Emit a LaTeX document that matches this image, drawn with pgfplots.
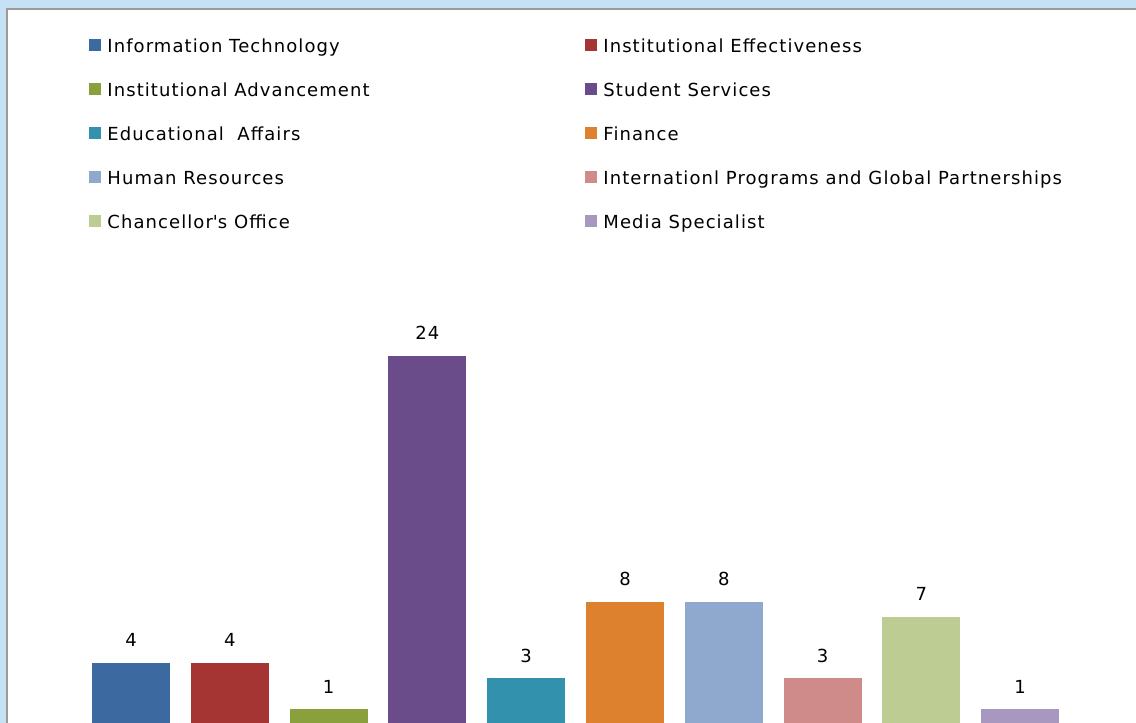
\documentclass[border=0pt]{standalone}
\usepackage{fontspec}
\setmainfont{DejaVu Sans}[LetterSpace=6]
\usepackage{pgfplots}
\pgfplotsset{compat=1.18}
\definecolor{bgblue}{HTML}{C6E0F4}
\definecolor{framegray}{HTML}{9A9A9A}
\definecolor{c1}{HTML}{3C6AA0}
\definecolor{c2}{HTML}{A53532}
\definecolor{c3}{HTML}{89A03C}
\definecolor{c4}{HTML}{6A4C8A}
\definecolor{c5}{HTML}{3292AD}
\definecolor{c6}{HTML}{DD812F}
\definecolor{c7}{HTML}{8FA8CE}
\definecolor{c8}{HTML}{CF8B89}
\definecolor{c9}{HTML}{BDCC93}
\definecolor{c10}{HTML}{A898C0}
\pgfplotsset{
  mybar/.style={ybar, bar width=39pt, bar shift=0pt, draw=none, fill=#1,
    legend image code/.code={\fill[fill=#1] (0pt,-2pt) rectangle (6pt,4pt);}}
}
\newcommand{\la}[1]{\makebox[242pt][l]{\hspace*{3pt}#1}}
\newcommand{\lb}[1]{\makebox[200pt][l]{\hspace*{3pt}#1}}
\begin{document}
\begin{tikzpicture}[x=1pt,y=1pt]
\useasboundingbox (0,0) rectangle (568,361.5);
\fill[bgblue] (0,0) rectangle (568,361.5);
\filldraw[fill=white, draw=framegray, line width=0.8pt] (3.5,-10) rectangle (590,357);
\begin{axis}[
  at={(0pt,0pt)}, anchor=south west,
  scale only axis, width=568pt, height=361.5pt,
  xmin=-1.3259, xmax=10.172, ymin=0.0912, ymax=47.19,
  hide axis, clip=false,
  /pgf/number format/assume math mode=true,
  nodes near coords,
  nodes near coords style={font=\fontsize{9}{10}\selectfont, anchor=base, yshift=8pt, inner sep=0pt, text=black},
  legend columns=2,
  legend style={draw=none, fill=none, at={(axis description cs:0.07835,0.94744)}, anchor=north west,
    inner sep=0pt, row sep=13pt, font=\fontsize{9}{10}\selectfont,
    nodes={inner sep=0pt, text height=7pt, text depth=2pt}},
  legend cell align=left,
]
\addplot[mybar=c1] coordinates {(0,4)};
\addlegendentry{\la{Information Technology}}
\addplot[mybar=c2] coordinates {(1,4)};
\addlegendentry{\lb{Institutional Effectiveness}}
\addplot[mybar=c3] coordinates {(2,1)};
\addlegendentry{\la{Institutional Advancement}}
\addplot[mybar=c4] coordinates {(3,24)};
\addlegendentry{\lb{Student Services}}
\addplot[mybar=c5] coordinates {(4,3)};
\addlegendentry{\la{Educational\ \ Affairs}}
\addplot[mybar=c6] coordinates {(5,8)};
\addlegendentry{\lb{Finance}}
\addplot[mybar=c7] coordinates {(6,8)};
\addlegendentry{\la{Human Resources}}
\addplot[mybar=c8] coordinates {(7,3)};
\addlegendentry{\lb{Internationl Programs and Global Partnerships}}
\addplot[mybar=c9] coordinates {(8,7)};
\addlegendentry{\la{Chancellor\textquotesingle s Office}}
\addplot[mybar=c10] coordinates {(9,1)};
\addlegendentry{\lb{Media Specialist}}
\end{axis}
\end{tikzpicture}
\end{document}
